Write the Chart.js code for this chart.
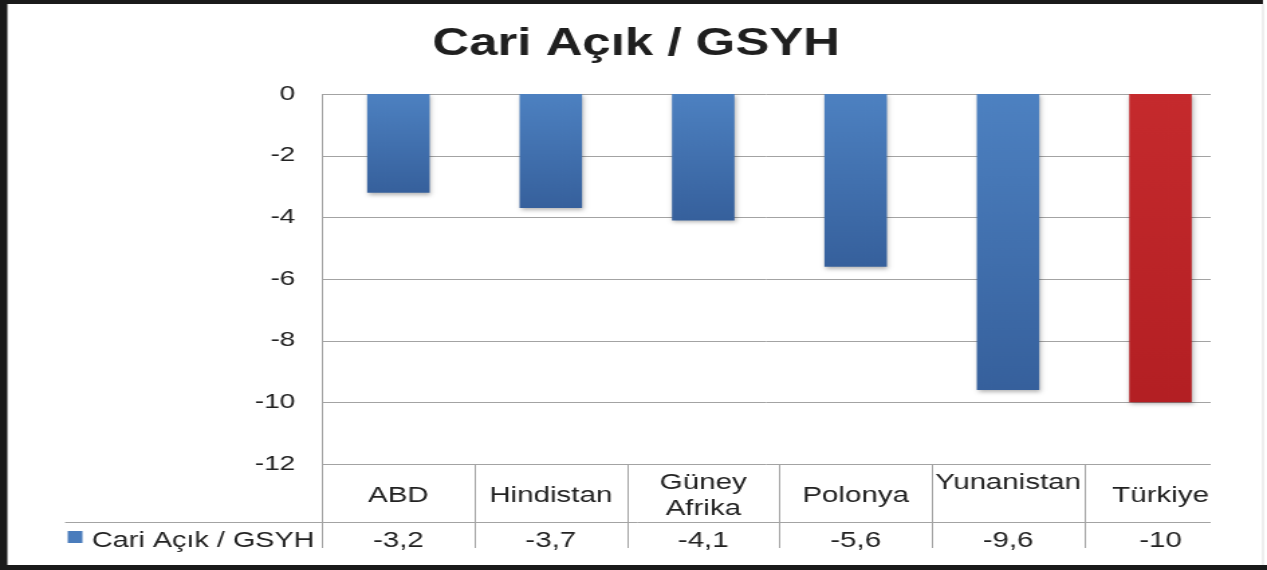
<!DOCTYPE html>
<html>
<head>
<meta charset="utf-8">
<script src="https://cdn.jsdelivr.net/npm/chart.js@4.4.1/dist/chart.umd.min.js"></script>
<style>
  html, body { margin: 0; padding: 0; background: #fff; overflow: hidden; }
  #chart { display: block; }
</style>
</head>
<body>
<!-- the original picture is stretched sideways, so the canvas is drawn narrower and widened by its inline style -->
<canvas id="chart" width="945" height="570" style="width:1267px;height:570px"></canvas>
<script>
// Cari Açık / GSYH - bar chart with data table below

const categories = ['ABD', 'Hindistan', ['Güney', 'Afrika'], 'Polonya', ['Yunanistan', ''], 'Türkiye'];
const values = [-3.2, -3.7, -4.1, -5.6, -9.6, -10];
const yTicks = [0, -2, -4, -6, -8, -10, -12];
const seriesName = 'Cari Açık / GSYH';
const chartTitle = 'Cari Açık / GSYH';
const highlighted = 'Türkiye';

const FONT = "'Liberation Sans', Arial, Helvetica, sans-serif";
const TEXT = '#222222';
const LINE = '#a3a3a3';

// vertical layout (px)
const PLOT_TOP = 94;
const PLOT_BOTTOM = 464;
const ROW_LINE = 522;
const TABLE_BOTTOM = 548;
const GRID_RIGHT = 903;

function fmt(v) {
    return String(v).replace('.', ',');
}

function barFill(ctx) {
    const chart = ctx.chart;
    const red = categories[ctx.dataIndex] === highlighted;
    const top = red ? '#c52a2d' : '#4d81c1';
    const bottom = red ? '#b31f23' : '#36609c';
    const y = chart.scales.y;
    if (!chart.chartArea || !y || ctx.type !== 'data') return top;
    const y0 = y.getPixelForValue(0);
    const y1 = y.getPixelForValue(ctx.raw);
    if (!isFinite(y0) || !isFinite(y1) || y0 === y1) return top;
    const g = chart.ctx.createLinearGradient(0, y0, 0, y1);
    g.addColorStop(0, top);
    g.addColorStop(1, bottom);
    return g;
}

// white page, black frame, title
const framePlugin = {
    id: 'frame',
    beforeDraw(chart) {
        const { ctx, width, height } = chart;
        ctx.save();
        ctx.fillStyle = '#ffffff';
        ctx.fillRect(0, 0, width, height);
        ctx.fillStyle = '#1a1a1a';
        ctx.fillRect(0, 0, width - 3, 4);
        ctx.fillRect(0, 0, 5.5, height);
        ctx.fillRect(0, height - 5, width, 5);
        ctx.fillStyle = '#dedede';
        ctx.fillRect(941.5, 4, 1, height - 9);

        ctx.fillStyle = '#1f1f1f';
        ctx.font = 'bold 38px ' + FONT;
        ctx.textAlign = 'center';
        ctx.textBaseline = 'alphabetic';
        ctx.fillText(chartTitle, 474.5, 55);
        ctx.restore();
    }
};

// horizontal grid lines, stopping short of the right edge like the original
const gridPlugin = {
    id: 'gridLines',
    beforeDatasetsDraw(chart) {
        const { ctx, chartArea } = chart;
        const y = chart.scales.y;
        ctx.save();
        ctx.strokeStyle = LINE;
        ctx.lineWidth = 1;
        y.ticks.forEach(t => {
            const py = Math.round(y.getPixelForValue(t.value)) + 0.5;
            ctx.beginPath();
            ctx.moveTo(chartArea.left, py);
            ctx.lineTo(GRID_RIGHT, py);
            ctx.stroke();
        });
        ctx.restore();
        // soft shadow under the bars
        ctx.save();
        ctx.shadowColor = 'rgba(0, 0, 0, 0.3)';
        ctx.shadowBlur = 4;
        ctx.shadowOffsetX = 1;
        ctx.shadowOffsetY = 2;
    },
    afterDatasetsDraw(chart) {
        chart.ctx.restore();
    }
};

// data table under the plot: category names, legend key and values
const tablePlugin = {
    id: 'dataTable',
    afterDraw(chart) {
        const { ctx, chartArea } = chart;
        const x = chart.scales.x;
        ctx.save();
        ctx.strokeStyle = LINE;
        ctx.lineWidth = 1;

        // y axis line, continued down through the table
        const ax = Math.round(chartArea.left) + 0.5;
        ctx.beginPath();
        ctx.moveTo(ax, PLOT_TOP);
        ctx.lineTo(ax, TABLE_BOTTOM);
        ctx.stroke();

        // row line
        ctx.beginPath();
        ctx.moveTo(48.5, ROW_LINE + 0.5);
        ctx.lineTo(GRID_RIGHT, ROW_LINE + 0.5);
        ctx.stroke();

        // column separators
        for (let i = 1; i < categories.length; i++) {
            const sx = Math.round((x.getPixelForValue(i - 1) + x.getPixelForValue(i)) / 2) + 0.5;
            ctx.beginPath();
            ctx.moveTo(sx, PLOT_BOTTOM);
            ctx.lineTo(sx, TABLE_BOTTOM);
            ctx.stroke();
        }

        ctx.fillStyle = TEXT;
        ctx.textAlign = 'center';
        ctx.textBaseline = 'alphabetic';
        ctx.font = '22px ' + FONT;
        categories.forEach((label, i) => {
            const lines = Array.isArray(label) ? label : [label];
            const cx = x.getPixelForValue(i);
            lines.forEach((line, k) => {
                const capMid = 494 - (lines.length - 1) * 13 + k * 26;
                ctx.fillText(line, cx, capMid + 8);
            });
            ctx.fillText(fmt(values[i]), cx, 547);
        });

        // legend key
        ctx.fillStyle = '#4a7cbc';
        ctx.fillRect(50.5, 531, 11, 12);
        ctx.fillStyle = TEXT;
        ctx.textAlign = 'left';
        ctx.font = '21.5px ' + FONT;
        ctx.fillText(seriesName, 68.5, 547);
        ctx.restore();
    }
};

new Chart(document.getElementById('chart'), {
    type: 'bar',
    data: {
        labels: categories,
        datasets: [{
            label: seriesName,
            data: values,
            backgroundColor: barFill,
            borderWidth: 0,
            categoryPercentage: 1,
            barPercentage: 0.41
        }]
    },
    options: {
        responsive: false,
        animation: false,
        devicePixelRatio: 1,
        layout: {
            padding: { left: 0, right: 22.6, top: PLOT_TOP, bottom: 570 - PLOT_BOTTOM }
        },
        plugins: {
            legend: { display: false },
            tooltip: { enabled: false },
            title: { display: false }
        },
        scales: {
            x: {
                display: false
            },
            y: {
                min: Math.min(...yTicks),
                max: Math.max(...yTicks),
                grid: { display: false, drawTicks: false },
                border: { display: false },
                ticks: {
                    stepSize: yTicks[0] - yTicks[1],
                    padding: 20,
                    color: TEXT,
                    font: { family: FONT, size: 21 },
                    callback: v => String(v)
                },
                afterFit(scale) {
                    scale.width = 240.3;
                }
            }
        }
    },
    plugins: [framePlugin, gridPlugin, tablePlugin]
});
</script>
</body>
</html>
